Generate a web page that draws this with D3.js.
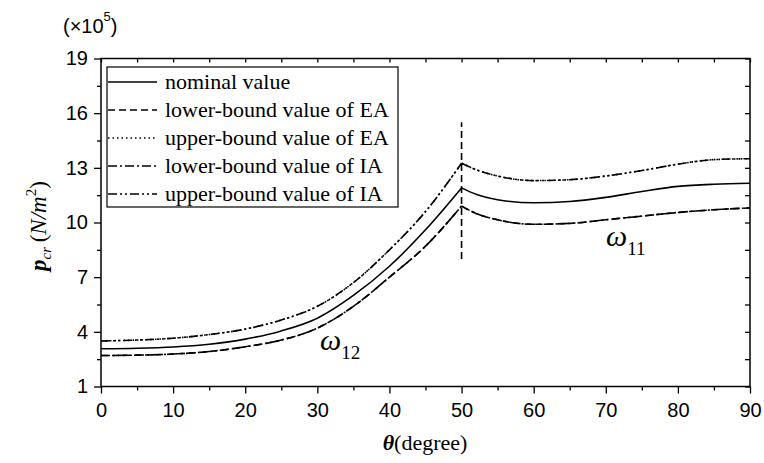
<!DOCTYPE html>
<html>
<head>
<meta charset="utf-8">
<style>
    body { margin: 0; background: #fff; }
    .tick text { font-family: "Liberation Sans", Arial, sans-serif; font-size: 20px; fill: #000; }
    .tick line { stroke: #000; stroke-width: 1.3; }
    .serif { font-family: "Liberation Serif", "Times New Roman", serif; fill: #000; }
    .curve { fill: none; stroke: #000; stroke-width: 1.6; }
</style>
</head>
<body>
<svg id="chart"></svg>
<script src="https://cdn.jsdelivr.net/npm/d3@7"></script>
<script>
    // theta (degree) sample positions
    var theta = [0, 5, 10, 15, 20, 25, 30, 35, 40, 45, 50, 52, 55, 60, 65, 70, 75, 80, 85, 90];

    // critical pressure, x1e5 N/m^2
    var nominal = [3.07, 3.1, 3.17, 3.32, 3.6, 4.05, 4.75, 6.0, 7.6, 9.6, 11.9, 11.55, 11.25, 11.08, 11.15, 11.38, 11.7, 11.98, 12.1, 12.15];
    var lowerEA = [2.7, 2.72, 2.78, 2.92, 3.18, 3.55, 4.2, 5.4, 7.0, 8.7, 10.9, 10.5, 10.15, 9.9, 9.95, 10.15, 10.35, 10.55, 10.7, 10.8];
    var upperEA = [3.5, 3.55, 3.65, 3.85, 4.15, 4.65, 5.4, 6.7, 8.5, 10.6, 13.25, 12.9, 12.55, 12.3, 12.35, 12.55, 12.85, 13.2, 13.45, 13.5];
    var lowerIA = [2.7, 2.72, 2.78, 2.92, 3.18, 3.55, 4.2, 5.4, 7.0, 8.7, 10.9, 10.5, 10.15, 9.9, 9.95, 10.15, 10.35, 10.55, 10.7, 10.8];
    var upperIA = [3.5, 3.55, 3.65, 3.85, 4.15, 4.65, 5.4, 6.7, 8.5, 10.6, 13.25, 12.9, 12.55, 12.3, 12.35, 12.55, 12.85, 13.2, 13.45, 13.5];

    // the jump of the EA lower bound at theta = 50
    var jumpTheta = 50;
    var jumpRange = [8, 15.5];

    var xTicks = [0, 10, 20, 30, 40, 50, 60, 70, 80, 90];
    var yTicks = [1, 4, 7, 10, 13, 16, 19];

    var legendNames = ['nominal value', 'lower-bound value of EA', 'upper-bound value of EA',
        'lower-bound value of IA', 'upper-bound value of IA'];

    var width = 764, height = 463;
    var m = { left: 101, right: 750, top: 58.5, bottom: 386.5 };

    var svg = d3.select('#chart').attr('width', width).attr('height', height);

    var x = d3.scaleLinear().domain([0, 90]).range([m.left, m.right]);
    var y = d3.scaleLinear().domain([1, 19]).range([m.bottom, m.top]);

    // minor ticks (halfway between major ones)
    var xMinor = d3.range(5, 90, 10);
    var yMinor = d3.range(2.5, 19, 3);

    function noDomain(g) { g.select('.domain').remove(); }

    // bottom axis
    svg.append('g').attr('transform', 'translate(0,' + m.bottom + ')')
        .call(d3.axisBottom(x).tickValues(xTicks).tickSize(7).tickPadding(9).tickFormat(d3.format('d')))
        .call(noDomain);
    svg.append('g').attr('transform', 'translate(0,' + m.bottom + ')')
        .call(d3.axisBottom(x).tickValues(xMinor).tickSize(4).tickFormat(''))
        .call(noDomain);

    // left axis
    svg.append('g').attr('transform', 'translate(' + m.left + ',0)')
        .call(d3.axisLeft(y).tickValues(yTicks).tickSize(7).tickPadding(6).tickFormat(d3.format('d')))
        .call(noDomain);
    svg.append('g').attr('transform', 'translate(' + m.left + ',0)')
        .call(d3.axisLeft(y).tickValues(yMinor).tickSize(4).tickFormat(''))
        .call(noDomain);

    // top and right axes, ticks pointing inward
    svg.append('g').attr('transform', 'translate(0,' + m.top + ')')
        .call(d3.axisTop(x).tickValues(xTicks.concat(xMinor)).tickSize(-4).tickFormat(''))
        .call(noDomain);
    svg.append('g').attr('transform', 'translate(' + m.right + ',0)')
        .call(d3.axisRight(y).tickValues(yTicks.concat(yMinor)).tickSize(-5).tickFormat(''))
        .call(noDomain);

    // frame
    svg.append('rect')
        .attr('x', m.left).attr('y', m.top)
        .attr('width', m.right - m.left).attr('height', m.bottom - m.top)
        .attr('fill', 'none').attr('stroke', '#000').attr('stroke-width', 1.5);

    var series = [
        { name: legendNames[0], values: nominal, dash: null },
        { name: legendNames[1], values: lowerEA, dash: '7,4' },
        { name: legendNames[2], values: upperEA, dash: '1.5,3' },
        { name: legendNames[3], values: lowerIA, dash: '9,3,2,3' },
        { name: legendNames[4], values: upperIA, dash: '9,3,2,3,2,3' }
    ];

    var line = d3.line()
        .x(function (d) { return x(d[0]); })
        .y(function (d) { return y(d[1]); })
        .curve(d3.curveMonotoneX);

    var iPeak = theta.indexOf(50);

    series.forEach(function (s) {
        var pts = theta.map(function (t, i) { return [t, s.values[i]]; });
        // draw the two branches separately so the peak at 50 stays sharp
        [pts.slice(0, iPeak + 1), pts.slice(iPeak)].forEach(function (part) {
            svg.append('path')
                .datum(part)
                .attr('class', 'curve')
                .attr('stroke-dasharray', s.dash)
                .attr('d', line);
        });
    });

    // vertical dashed jump at 50
    svg.append('line')
        .attr('x1', x(jumpTheta)).attr('x2', x(jumpTheta))
        .attr('y1', y(jumpRange[0])).attr('y2', y(jumpRange[1]))
        .attr('stroke', '#000').attr('stroke-width', 1.6)
        .attr('stroke-dasharray', '7,4');

    // legend
    var lg = svg.append('g');
    lg.append('rect')
        .attr('x', 107).attr('y', 67).attr('width', 291).attr('height', 140)
        .attr('fill', '#fff').attr('stroke', '#000').attr('stroke-width', 1.2);
    series.forEach(function (s, i) {
        var yy = 82 + i * 28;
        lg.append('line')
            .attr('x1', 108).attr('x2', 157).attr('y1', yy).attr('y2', yy)
            .attr('stroke', '#000').attr('stroke-width', 1.6)
            .attr('stroke-dasharray', s.dash);
        lg.append('text')
            .attr('class', 'serif')
            .attr('x', 165).attr('y', yy).attr('dy', '0.33em')
            .style('font-size', '22px')
            .text(s.name);
    });

    // scale factor note
    var sc = svg.append('text').attr('class', 'serif')
        .attr('x', 63).attr('y', 33)
        .style('font-family', '"Liberation Sans", Arial, sans-serif')
        .style('font-size', '20px');
    sc.append('tspan').text('(\u00d710');
    sc.append('tspan').attr('dy', -12).style('font-size', '13px').text('5');
    sc.append('tspan').attr('dy', 12).text(')');

    // y axis title
    var yt = svg.append('text').attr('class', 'serif')
        .attr('transform', 'translate(46,' + 226 + ') rotate(-90)')
        .attr('text-anchor', 'middle')
        .style('font-size', '23px');
    yt.append('tspan').style('font-weight', 'bold').style('font-style', 'italic').text('p');
    yt.append('tspan').attr('dy', 5).style('font-style', 'italic').style('font-size', '15px').text('cr');
    yt.append('tspan').attr('dy', -5).text('\u2009(');
    yt.append('tspan').style('font-style', 'italic').text('N/m');
    yt.append('tspan').attr('dy', -10).style('font-size', '15px').text('2');
    yt.append('tspan').attr('dy', 10).text(')');

    // x axis title
    var xt = svg.append('text').attr('class', 'serif')
        .attr('x', 425).attr('y', 450)
        .attr('text-anchor', 'middle')
        .style('font-size', '22px');
    xt.append('tspan').style('font-weight', 'bold').style('font-style', 'italic').text('\u03b8');
    xt.append('tspan').text('(degree)');

    // mode annotations
    function omega(px, py, sub) {
        var t = svg.append('text').attr('class', 'serif').attr('x', px).attr('y', py);
        t.append('tspan').style('font-style', 'italic').style('font-size', '30px').text('\u03c9');
        t.append('tspan').attr('dy', 9).style('font-size', '19px').text(sub);
    }
    omega(320, 350, '12');
    omega(606, 246, '11');
</script>
</body>
</html>
